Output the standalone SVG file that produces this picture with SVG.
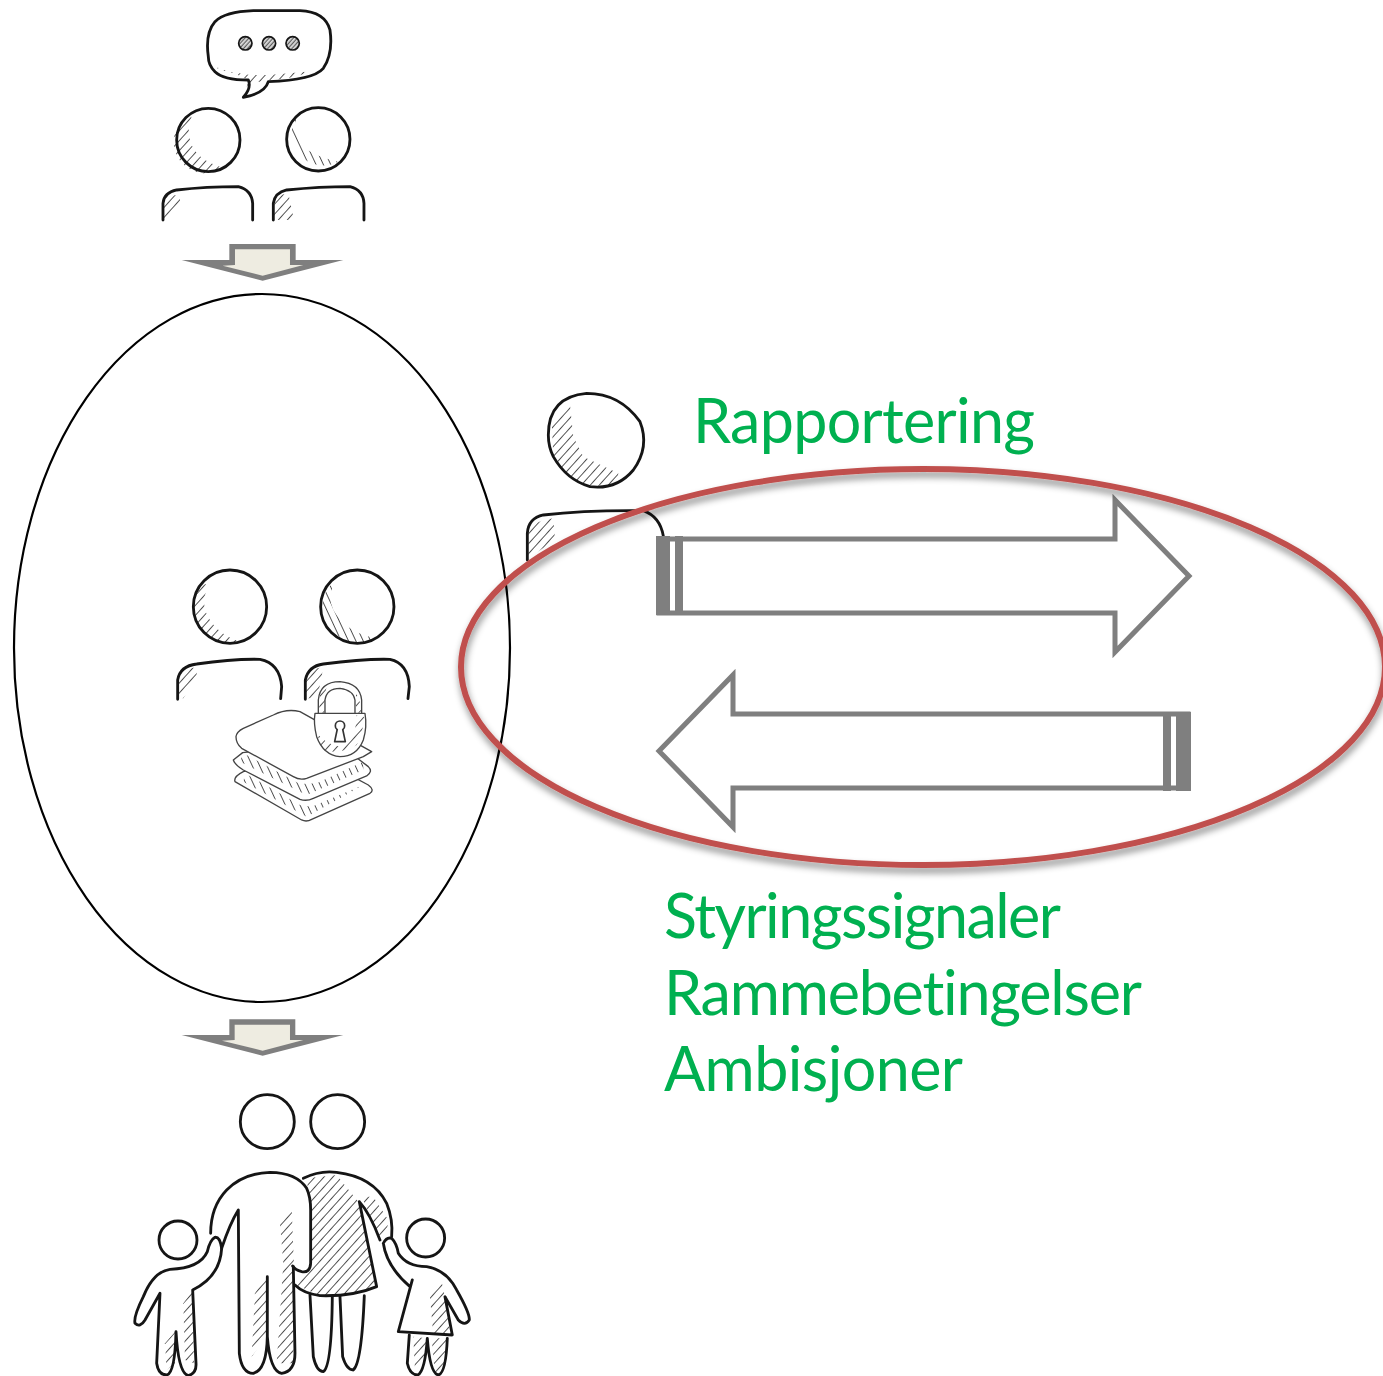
<svg xmlns="http://www.w3.org/2000/svg" width="1383" height="1376" viewBox="0 0 1383 1376">
<style>
.k{fill:none;stroke:#151515;stroke-width:8.5;stroke-linecap:round;stroke-linejoin:round}
.w{fill:#fff;stroke:#151515;stroke-width:8.5;stroke-linecap:round;stroke-linejoin:round}
.s{fill:none;stroke:#444;stroke-width:4;stroke-linecap:round;stroke-linejoin:round}
.sw{fill:#fff;stroke:#444;stroke-width:4;stroke-linejoin:round}
.h{fill:url(#h1);stroke:none}
.h2{fill:url(#h2);stroke:none}
.dg{fill:#7f7f7f}
.di{fill:#eeece1}
.ar{fill:#fff;stroke:#7f7f7f;stroke-width:5;stroke-linejoin:miter}
.bar{fill:#7f7f7f}
text{font-family:"Lato","Open Sans","Liberation Sans",sans-serif;font-size:61px;fill:#00b050;font-variant-ligatures:none}
</style>
<defs>
<pattern id="h1" patternUnits="userSpaceOnUse" width="20" height="20" patternTransform="rotate(42)"><path d="M10,0V20" stroke="#4a4a4a" stroke-width="2.8"/></pattern>
<pattern id="h2" patternUnits="userSpaceOnUse" width="20" height="20" patternTransform="rotate(-25)"><path d="M10,0V20" stroke="#4a4a4a" stroke-width="2.8"/></pattern>
<pattern id="h3" patternUnits="userSpaceOnUse" width="9" height="9" patternTransform="rotate(42)"><rect width="9" height="9" fill="#ddd"/><path d="M4,0V9" stroke="#444" stroke-width="3"/></pattern>
<filter id="sh" x="-5%" y="-5%" width="110%" height="115%"><feDropShadow dx="1" dy="5" stdDeviation="3.5" flood-color="#000" flood-opacity=".45"/></filter>
</defs>

<g id="people-top" transform="translate(140 0) scale(.3333)">
<path class="h" d="M225,200 Q300,225 325,240 L315,285 L335,250 L385,240 Q500,235 530,195 L500,215 L385,225 L330,225 L240,210Z"/>
<path class="w" style="fill:none" d="M205,170 Q195,100 225,65 Q255,35 340,32 L480,32 Q555,35 570,90 Q580,160 550,205 Q520,240 385,245 Q375,280 310,292 Q335,265 325,240 Q250,240 225,215 Q205,195 205,170Z"/>
<g class="k" style="stroke-width:5;fill:url(#h3)"><circle cx="316" cy="130" r="20"/><circle cx="387" cy="130" r="20"/><circle cx="458" cy="130" r="20"/></g>
<path class="h" d="M135,352 A95,95 0 0 0 250,503 Q165,480 150,420Q140,380 155,350Z"/>
<circle class="k" cx="205" cy="420" r="95"/>
<path class="h2" d="M470,350 A95,95 0 0 0 595,485 Q500,465 475,420Q460,380 470,350Z"/>
<circle class="k" cx="535" cy="418" r="95"/>
<path class="h" d="M70,660 L72,600 Q85,585 120,585 L120,625 L80,660Z"/>
<path class="k" d="M69,660 L69,610 Q72,578 110,570 Q200,560 295,560 Q335,570 338,610 L338,660"/>
<path class="h" d="M402,660 L404,600 Q415,585 445,580 L460,650 L450,660Z"/>
<path class="k" d="M400,660 L400,610 Q405,578 440,570 Q540,560 630,560 Q670,570 672,610 L672,660"/>
</g>

<g id="arrow-down-1" transform="translate(140 0) scale(.3333)">
<path class="dg" d="M268,732H467V780H610L368,842L125,780H268Z"/>
<path class="di" d="M285,748H450V795H490L368,827L248,797L285,795Z"/>
</g>

<ellipse id="group-ellipse" cx="262" cy="648" rx="248" ry="354" fill="none" stroke="#000" stroke-width="2.2"/>

<g id="people-middle" transform="translate(160 560) scale(.3333)">
<path class="h" d="M125,75 A110,110 0 0 0 245,247 Q160,220 135,150Q125,110 150,70Z"/>
<circle class="k" cx="210" cy="140" r="110"/>
<path class="h2" d="M505,80 A110,110 0 0 0 650,235 Q560,220 520,150Q500,110 525,70Z"/>
<circle class="k" cx="592" cy="140" r="110"/>
<path class="h" d="M55,415 L55,350 Q70,325 110,322 L110,350 L70,415Z"/>
<path class="k" d="M53,418 L53,360 Q60,318 110,312 Q220,296 300,298 Q360,310 365,380 L362,416"/>
<path class="h" d="M437,415 L437,350 Q450,325 490,322 L475,400 L455,415Z"/>
<path class="k" d="M436,418 L436,360 Q445,318 490,312 Q610,296 690,298 Q745,310 748,380 L744,416"/>
</g>

<g id="documents" transform="translate(160 560) scale(.3333)">
<path class="sw" d="M250,635 Q220,650 225,665 L425,780 Q440,787 455,778 L630,700 Q645,690 625,675 L560,640 L400,600Z"/>
<path class="h" style="fill:url(#h2)" d="M255,640 L420,735 L455,740 L610,675 L440,770 L250,665Z"/>
<path class="sw" d="M248,578 L220,600 Q225,615 250,630 L420,718 Q440,725 460,715 L620,648 Q640,635 625,620 L560,570 L400,560Z"/>
<path class="h" style="fill:url(#h2)" d="M250,580 L420,672 L470,670 L610,605 L610,630 L440,705 L240,605Z"/>
<path class="sw" d="M228,530 Q230,515 250,505 L340,465 Q380,445 420,455 L635,575 L610,590 L440,655 Q420,662 400,650 L245,565 Q228,550 228,530Z"/>
<path class="s" d="M475,460 L475,420 Q480,365 540,365 Q600,370 605,420 L605,460M495,458 L495,420 Q500,385 540,385 Q580,390 585,420 L585,458"/>
<path class="h" d="M478,458 L478,420 Q480,385 500,378 Q495,400 493,458Z"/>
<path class="h" d="M588,458 L588,400 Q603,420 603,458Z"/>
<path class="sw" d="M465,460 L615,460 Q622,500 610,540 Q590,590 540,590 Q490,585 470,530 Q460,490 465,460Z"/>
<path class="h" d="M470,520 L490,570 Q540,585 590,555 Q610,520 612,470 L590,465 Q590,540 540,560 Q500,555 470,520Z"/>
<circle cx="540" cy="497" r="14" fill="#fff" stroke="#333" stroke-width="5"/>
<path d="M532,507 L524,545 L556,545 L548,507" fill="#fff" stroke="#333" stroke-width="5" stroke-linejoin="round"/>
</g>

<g id="arrow-down-2" transform="translate(120 1010) scale(.3333)">
<path class="dg" d="M328,28H526V75H670L428,137L185,75H328Z"/>
<path class="di" d="M344,44H510V90H550L428,122L306,92L344,90Z"/>
</g>

<g id="family" transform="translate(120 1010) scale(.3333)">
<circle class="k" cx="442" cy="335" r="81"/>
<circle class="k" cx="653" cy="335" r="81"/>
<circle class="k" cx="174" cy="690" r="57"/>
<circle class="k" cx="917" cy="684" r="57"/>
<path class="h" d="M560,505 L650,495 L715,575 L770,830 Q700,860 600,857 L530,825 L572,760 L572,600Z"/>
<path class="h" d="M725,560 L760,560 L805,630 L800,670 L780,680Z"/>
<path class="h" d="M515,590 L480,640 L490,760 L470,1060 L520,1060 L522,770Z"/>
<path class="h" d="M440,790 L405,850 L395,1040 L438,980Z"/>
<path class="h" d="M218,840 L190,880 L195,1050 L222,1060Z"/>
<path class="h" d="M165,965 L135,1000 L140,1080 L165,1060Z"/>
<path class="h" d="M965,815 L930,860 L940,975 L990,975 L975,860Z"/>
<path class="h" d="M880,980 L885,1080 L915,1060 L920,985ZM935,985 L945,1090 L975,1070 L980,985Z"/>
<path class="k" d="M272,670 Q272,590 320,540 Q370,490 450,487 Q530,488 560,535 Q572,560 572,600 L572,760 Q570,790 545,785 Q525,780 518,768"/>
<path class="k" d="M305,715 Q330,640 355,600 L358,1030 Q365,1090 400,1090 Q440,1080 442,980 L442,800 M442,980 Q450,1085 485,1090 Q525,1085 525,1030 L520,770"/>
<path class="k" d="M550,505 Q600,480 650,487 Q760,500 800,580 Q820,630 815,680"/>
<path class="k" d="M718,575 L770,830 Q700,860 600,857 Q550,850 525,825 M718,575 Q750,610 780,690"/>
<path class="k" d="M570,855 L580,1040 Q590,1085 610,1085 Q635,1070 637,860 M660,860 L668,1040 Q680,1080 700,1080 Q725,1060 733,857"/>
<path class="k" d="M305,715 Q300,680 285,682 Q270,690 262,725 Q240,775 150,778 Q100,785 70,860 Q40,920 45,940 Q60,955 75,930 L120,850 L110,1060 Q115,1095 140,1095 Q165,1090 168,965 Q175,1090 205,1097 Q230,1090 228,1060 L218,840 Q300,800 305,715Z"/>
<path class="k" d="M790,700 Q800,680 815,685 Q830,700 835,730 Q860,770 920,770 Q980,780 1010,840 Q1050,910 1048,930 Q1035,950 1015,930 L975,860 L997,975 L835,965 L877,810 M790,700 Q800,770 870,830"/>
<path class="k" d="M868,975 L862,1060 Q870,1095 893,1095 Q915,1085 922,985 Q930,1090 955,1095 Q978,1090 982,985"/>
</g>

<g id="person-right" transform="translate(510 380) scale(.3333)">
<path class="h" d="M125,120 L180,75 L190,170 L220,230 L325,280 L320,315 L240,318 Q170,300 130,230Z"/>
<path class="k" d="M115,165 Q115,50 230,40 Q330,40 390,125 Q420,200 370,270 Q320,330 240,320 Q170,300 130,230 Q115,200 115,165Z"/>
<path class="h" d="M55,535 L55,460 Q60,425 130,415 L135,480Z"/>
<path class="k" d="M52,540 L52,460 Q55,415 100,405 Q230,390 400,392 Q450,410 460,468"/>
</g>

<g id="connectors">
<path id="arrow-report" class="ar" d="M659,539H1115V500L1189,576L1115,652V613H659Z"/>
<rect class="bar" x="656" y="536" width="14" height="79"/>
<rect class="bar" x="675" y="536" width="8" height="79"/>
<path id="arrow-signal" class="ar" d="M1188,714H733V675L659,751L733,827V788H1188Z"/>
<rect class="bar" x="1176" y="712" width="15" height="79"/>
<rect class="bar" x="1163" y="712" width="8" height="79"/>
<ellipse id="highlight-ellipse" cx="923" cy="667" rx="462" ry="198" fill="none" stroke="#c0504d" stroke-width="6" filter="url(#sh)"/>
</g>

<g id="labels">
<text x="693" y="443" textLength="342">Rapportering</text>
<text x="664" y="938" textLength="397">Styringssignaler</text>
<text x="664" y="1015" textLength="478">Rammebetingelser</text>
<text x="664" y="1091" textLength="299">Ambisjoner</text>
</g>
</svg>
